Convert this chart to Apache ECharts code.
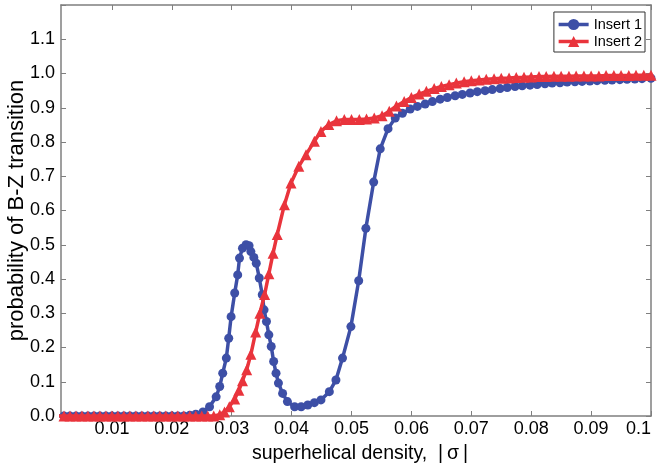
<!DOCTYPE html>
<html>
<head>
<meta charset="utf-8">
<script src="https://cdn.jsdelivr.net/npm/echarts@6/dist/echarts.min.js"></script>
<style>html,body{margin:0;padding:0;background:#fff}#c{width:659px;height:468px}</style>
</head>
<body>
<div id="c"></div>
<script>
// ---- data ----
var seriesNames = ['Insert 1', 'Insert 2'];
var xTicks = [0.01, 0.02, 0.03, 0.04, 0.05, 0.06, 0.07, 0.08, 0.09, 0.1];

var insert1X = [0.001,0.002,0.003,0.004,0.005,0.006,0.007,0.008,0.009,0.010,0.011,0.012,0.013,0.014,0.015,0.016,0.017,0.018,0.019,0.020,0.021,0.022,0.023,0.024,
  0.0252,0.0263,0.0274,0.0280,0.0285,0.0291,0.0295,0.0299,0.0305,0.0310,0.0313,0.0318,0.0324,0.0329,0.0332,0.0337,0.0341,0.0346,0.0351,0.0354,0.0358,0.0362,0.0366,0.0370,0.0374,0.0378,0.0385,0.0393,0.0405,0.0416,0.0427,0.0438,0.0449,0.0463,0.0474,0.0485,0.0499,0.0512,0.0524,0.0537,0.0548,0.0561,0.0573,
  0.0585,0.0598,0.0610,0.0623,0.0635,0.0648,0.0660,0.0673,0.0685,0.0698,0.0710,0.0723,0.0735,0.0748,0.0760,0.0773,0.0785,0.0798,0.0810,0.0823,0.0835,0.0848,0.0860,0.0873,0.0885,0.0898,0.0910,0.0923,0.0935,0.0948,0.0960,0.0973,0.0985,0.1000];
var insert1Y = [0,0,0,0,0,0,0,0,0,0,0,0,0,0,0,0,0,0,0,0,0,0,0.002,0.005,
  0.012,0.027,0.056,0.086,0.125,0.169,0.227,0.290,0.359,0.412,0.461,0.490,0.500,0.497,0.480,0.463,0.446,0.403,0.354,0.310,0.276,0.237,0.203,0.159,0.125,0.096,0.066,0.042,0.027,0.027,0.032,0.039,0.047,0.071,0.105,0.169,0.261,0.395,0.548,0.683,0.780,0.839,0.870,
  0.884,0.896,0.904,0.911,0.918,0.925,0.930,0.935,0.939,0.943,0.947,0.950,0.953,0.956,0.959,0.962,0.964,0.966,0.968,0.970,0.972,0.973,0.975,0.976,0.977,0.978,0.979,0.980,0.981,0.982,0.983,0.984,0.985,0.986];

var insert2X = [0.001,0.002,0.003,0.004,0.005,0.006,0.007,0.008,0.009,0.010,0.011,0.012,0.013,0.014,0.015,0.016,0.017,0.018,0.019,0.020,0.021,0.022,0.023,0.024,0.025,0.026,0.027,
  0.0280,0.0288,0.0296,0.0305,0.0312,0.0318,0.0325,0.0332,0.0340,0.0347,0.0355,0.0362,0.0369,0.0376,0.0388,0.0399,0.0412,0.0424,0.0438,0.0449,0.0462,0.0475,0.0488,0.0500,0.0513,0.0525,0.0538,0.0551,0.0563,0.0575,0.0588,
  0.0600,0.0613,0.0625,0.0638,0.0650,0.0663,0.0675,0.0688,0.0700,0.0713,0.0725,0.0738,0.0750,0.0763,0.0775,0.0788,0.0800,0.0813,0.0825,0.0838,0.0850,0.0863,0.0875,0.0888,0.0900,0.0913,0.0925,0.0938,0.0950,0.0963,0.0975,0.0988,0.1000];
var insert2Y = [0,0,0,0,0,0,0,0,0,0,0,0,0,0,0,0,0,0,0,0,0,0,0,0,0,0,0,
  0.004,0.012,0.027,0.050,0.075,0.103,0.135,0.180,0.245,0.300,0.355,0.415,0.475,0.530,0.617,0.680,0.729,0.763,0.802,0.831,0.851,0.862,0.866,0.866,0.866,0.867,0.870,0.877,0.890,0.905,0.918,
  0.930,0.940,0.948,0.956,0.962,0.967,0.972,0.976,0.979,0.981,0.983,0.985,0.986,0.987,0.988,0.989,0.990,0.991,0.991,0.992,0.992,0.992,0.993,0.993,0.993,0.993,0.994,0.994,0.994,0.994,0.995,0.995,0.995];

function pairs(xs, ys) { return xs.map(function (x, i) { return [x, ys[i]]; }); }

var FONT = '"Liberation Sans", Arial, Helvetica, sans-serif';
var BLUE = '#3d4fa6', RED = '#e9343c';
var frame = { show: true, onZero: false, lineStyle: { color: '#7f7f7f', width: 1.5 } };
var tickStyle = { color: '#7f7f7f', width: 1 };
var X_MIN = 0.0015, X_MAX = 0.1;

var chart = echarts.init(document.getElementById('c'), null, { renderer: 'canvas' });
chart.setOption({
  animation: false,
  backgroundColor: '#ffffff',
  grid: { left: 61, right: 8, top: 5, bottom: 52, containLabel: false, outerBoundsMode: 'none' },
  legend: {
    data: [
      { name: seriesNames[0], itemStyle: { color: BLUE }, lineStyle: { color: BLUE, width: 3.5 } },
      { name: seriesNames[1], itemStyle: { color: RED }, lineStyle: { color: RED, width: 3.5 } }
    ],
    orient: 'vertical',
    right: 14, top: 12,
    padding: [5, 3, 3, 3],
    itemGap: 2,
    itemWidth: 30, itemHeight: 14,
    backgroundColor: '#fff',
    borderColor: '#333', borderWidth: 1, borderRadius: 0,
    textStyle: { fontFamily: FONT, fontSize: 14.5, color: '#000' }
  },
  xAxis: [{
    type: 'value', position: 'bottom', min: X_MIN, max: X_MAX,
    name: 'superhelical density,  |\u2009σ\u2009|', nameLocation: 'middle', nameGap: 28,
    nameTextStyle: { fontFamily: FONT, fontSize: 19.5, color: '#000', padding: [0, 0, 0, 8] },
    axisLine: frame,
    axisTick: { show: true, inside: true, length: 5, lineStyle: tickStyle, customValues: xTicks },
    axisLabel: { customValues: xTicks, margin: 4, fontFamily: FONT, fontSize: 18, color: '#000',
      alignMaxLabel: 'right',
      formatter: function (v) { return String(+v.toFixed(2)); } },
    splitLine: { show: false }
  }, {
    type: 'value', position: 'top', min: X_MIN, max: X_MAX,
    axisLine: frame,
    axisTick: { show: true, inside: true, length: 5, lineStyle: tickStyle, customValues: xTicks },
    axisLabel: { show: false },
    splitLine: { show: false }
  }],
  yAxis: [{
    type: 'value', position: 'left', min: 0, max: 1.2, interval: 0.1,
    name: 'probability of B-Z transition', nameLocation: 'middle', nameGap: 33, nameMoveOverlap: false,
    nameTextStyle: { fontFamily: FONT, fontSize: 22, color: '#000' },
    axisLine: frame,
    axisTick: { show: true, inside: true, length: 5, lineStyle: tickStyle },
    axisLabel: { margin: 6, fontFamily: FONT, fontSize: 18, color: '#000',
      formatter: function (v) { return v > 1.15 ? '' : v.toFixed(1); } },
    splitLine: { show: false }
  }, {
    type: 'value', position: 'right', min: 0, max: 1.2, interval: 0.1,
    axisLine: frame,
    axisTick: { show: true, inside: true, length: 5, lineStyle: tickStyle },
    axisLabel: { show: false },
    splitLine: { show: false }
  }],
  series: [{
    name: seriesNames[0], type: 'line', xAxisIndex: 0, yAxisIndex: 0,
    data: pairs(insert1X, insert1Y),
    symbol: 'circle', symbolSize: 9, showAllSymbol: true, clip: true,
    itemStyle: { color: BLUE },
    lineStyle: { color: BLUE, width: 3.5 },
    z: 2
  }, {
    name: seriesNames[1], type: 'line', xAxisIndex: 0, yAxisIndex: 0,
    data: pairs(insert2X, insert2Y),
    symbol: 'triangle', symbolSize: 11, showAllSymbol: true, clip: true,
    itemStyle: { color: RED },
    lineStyle: { color: RED, width: 3.5 },
    z: 3
  }]
});
</script>
</body>
</html>
